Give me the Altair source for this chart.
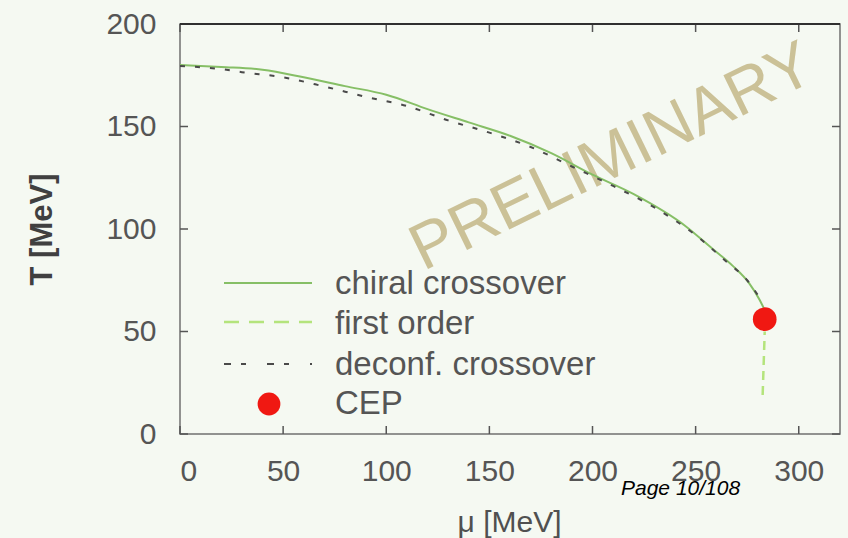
import altair as alt
import pandas as pd

# Chiral crossover line: chemical potential mu [MeV] vs temperature T [MeV]
chiral_mu = [0, 20, 40, 60, 80, 100, 120, 140, 160, 180, 200, 220, 245, 258, 268, 276, 281, 283]
chiral_T = [180, 179, 177.7, 174, 169.7, 165.5, 158.5, 152, 145.5, 137, 126.5, 117, 101.5, 90.5, 82, 73.5, 65.5, 61.5]

# Deconfinement crossover line
deconf_mu = [0, 20, 30, 50, 70, 90, 110, 130, 150, 170, 190, 210, 230, 250, 265, 275, 280]
deconf_T = [179.5, 178, 176.5, 174, 169.5, 164.5, 160, 153, 147, 140, 130.5, 121, 110.5, 97, 84, 75, 68]

# First-order line below the critical end point
first_mu = [283.5, 282.5]
first_T = [50, 19]

# Critical end point
cep_mu = [283.5]
cep_T = [56]

x_ticks = [0, 50, 100, 150, 200, 250, 300]
y_ticks = [0, 50, 100, 150, 200]
legend_labels = ["chiral crossover", "first order", "deconf. crossover", "CEP"]

W, H = 660, 410
FONT = "Liberation Sans"
GREEN = "#86bf66"
LIGHT_GREEN = "#b4e47c"
DARK = "#4a4a4a"
RED = "#f01812"
LABEL = "#555555"

x_enc = alt.X(
    "mu:Q",
    scale=alt.Scale(domain=[0, 320], nice=False, zero=False),
    axis=alt.Axis(
        values=x_ticks, ticks=False, domain=False, grid=False,
        labelFont=FONT, labelFontSize=30, labelColor=LABEL, labelPadding=22,
        title="μ [MeV]", titleFont=FONT, titleFontSize=30, titleFontWeight="normal",
        titleColor="#505050", titleX=329, titleY=88, titleBaseline="middle",
    ),
)
y_enc = alt.Y(
    "T:Q",
    scale=alt.Scale(domain=[0, 200], nice=False, zero=False),
    axis=alt.Axis(
        values=y_ticks, ticks=False, domain=False, grid=False,
        labelFont=FONT, labelFontSize=30, labelColor=LABEL, labelPadding=24,
        title="T [MeV]", titleFont=FONT, titleFontSize=31, titleFontWeight="bold",
        titleColor="#404040", titleAngle=270, titleX=-138, titleY=205,
        titleBaseline="middle", titleAlign="center",
    ),
)

one = alt.Data(values=[{}])

# watermark
watermark = alt.Chart(one).mark_text(
    text="PRELIMINARY", font=FONT, fontSize=65, color="#cbc197",
    angle=334, align="center", baseline="middle", x=432, y=133,
)

# inward ticks on all four sides
xt = pd.DataFrame({"mu": x_ticks})
yt = pd.DataFrame({"T": y_ticks})
tick_color = "#555555"
ticks_bottom = alt.Chart(xt).mark_rule(color=tick_color, strokeWidth=1.5).encode(
    x=x_enc, y=alt.value(H), y2=alt.value(H - 8))
ticks_top = alt.Chart(xt).mark_rule(color=tick_color, strokeWidth=1.5).encode(
    x=x_enc, y=alt.value(0), y2=alt.value(8))
ticks_left = alt.Chart(yt).mark_rule(color=tick_color, strokeWidth=1.5).encode(
    y=y_enc, x=alt.value(0), x2=alt.value(8))
ticks_right = alt.Chart(yt).mark_rule(color=tick_color, strokeWidth=1.5).encode(
    y=y_enc, x=alt.value(W), x2=alt.value(W - 8))

top_border = alt.Chart(one).mark_rule(color="#303030", strokeWidth=2).encode(
    x=alt.value(0), x2=alt.value(W), y=alt.value(0))

chiral = alt.Chart(pd.DataFrame({"mu": chiral_mu, "T": chiral_T})).mark_line(
    color=GREEN, strokeWidth=2, interpolate="monotone").encode(x=x_enc, y=y_enc)

deconf = alt.Chart(pd.DataFrame({"mu": deconf_mu, "T": deconf_T})).mark_line(
    color=DARK, strokeWidth=2, strokeDash=[5, 10], interpolate="monotone").encode(x=x_enc, y=y_enc)

first = alt.Chart(pd.DataFrame({"mu": first_mu, "T": first_T})).mark_line(
    color=LIGHT_GREEN, strokeWidth=2.5, strokeDash=[9, 6]).encode(x=x_enc, y=y_enc)

cep = alt.Chart(pd.DataFrame({"mu": cep_mu, "T": cep_T})).mark_point(
    shape="circle", filled=True, color=RED, size=560, opacity=1).encode(x=x_enc, y=y_enc)

# legend
sym_x0, sym_x1 = 44, 132
leg_rows = [259, 298, 340, 380]
leg_base = [270, 310, 351, 390]
leg_chiral = alt.Chart(one).mark_rule(color=GREEN, strokeWidth=2).encode(
    x=alt.value(sym_x0), x2=alt.value(sym_x1), y=alt.value(leg_rows[0]))
leg_first = alt.Chart(one).mark_rule(color=LIGHT_GREEN, strokeWidth=2.5, strokeDash=[15, 10]).encode(
    x=alt.value(sym_x0), x2=alt.value(sym_x1), y=alt.value(leg_rows[1]))
leg_deconf = alt.Chart(one).mark_rule(color=DARK, strokeWidth=2, strokeDash=[7, 10, 5, 21]).encode(
    x=alt.value(sym_x0), x2=alt.value(sym_x1), y=alt.value(leg_rows[2]))
leg_cep = alt.Chart(one).mark_point(shape="circle", filled=True, color=RED, size=520, opacity=1).encode(
    x=alt.value(89), y=alt.value(leg_rows[3]))
leg_texts = [
    alt.Chart(one).mark_text(text=lab, font=FONT, fontSize=33, color=LABEL,
                             align="left", baseline="alphabetic", x=155, y=b)
    for lab, b in zip(legend_labels, leg_base)
]

page = alt.Chart(one).mark_text(
    text="Page 10/108", font=FONT, fontSize=21, fontStyle="italic", color="#000000",
    align="left", baseline="alphabetic", x=441, y=471)

chart = alt.layer(
    watermark, ticks_bottom, ticks_top, ticks_left, ticks_right, top_border,
    chiral, deconf, first, cep,
    leg_chiral, leg_first, leg_deconf, leg_cep, *leg_texts, page,
).properties(
    width=W, height=H,
    autosize=alt.AutoSizeParams(type="none"),
    padding={"left": 180, "top": 24, "right": 8, "bottom": 104},
    background="#f5f9f2",
).configure_view(
    stroke="#707070", strokeWidth=1.5,
)

chart.save("out.html", embed_options={"renderer": "svg", "actions": False})
